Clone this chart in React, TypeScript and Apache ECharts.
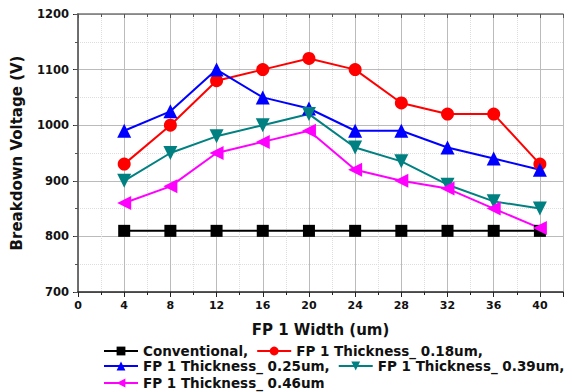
import React, { useEffect, useRef } from "react";
import * as echarts from "echarts";

const widths = [4, 8, 12, 16, 20, 24, 28, 32, 36, 40];
const conventional = [810, 810, 810, 810, 810, 810, 810, 810, 810, 810];
const t018 = [930, 1000, 1080, 1100, 1120, 1100, 1040, 1020, 1020, 930];
const t025 = [990, 1025, 1100, 1050, 1030, 990, 990, 960, 940, 920];
const t039 = [900, 950, 980, 1000, 1020, 960, 935, 893, 863, 850];
const t046 = [860, 890, 950, 970, 990, 920, 900, 886, 850, 815];

const names = [
  "Conventional,",
  "FP 1 Thickness_ 0.18um,",
  "FP 1 Thickness_ 0.25um,",
  "FP 1 Thickness_ 0.39um,",
  "FP 1 Thickness_ 0.46um",
];

const FONT = "DejaVu Sans, Verdana, sans-serif";

export default function App() {
  const ref = useRef<HTMLDivElement>(null);
  useEffect(() => {
    if (!ref.current) return;
    const chart = echarts.init(ref.current, undefined, { renderer: "svg" });
    const mk = (
      name: string,
      vals: number[],
      color: string,
      symbol: string,
      size: number,
      rot = 0
    ) => ({
      name,
      type: "line",
      data: widths.map((w, i) => [w, vals[i]]),
      symbol,
      symbolSize: size,
      symbolRotate: rot,
      lineStyle: { color, width: 2 },
      itemStyle: { color },
      z: 3,
    });
    const legendText = { fontFamily: FONT, fontWeight: "bold", fontSize: 13.5, color: "#111" };
    const legendBase = {
      orient: "horizontal",
      left: 103,
      itemWidth: 34,
      itemHeight: 11,
      itemGap: 8,
      textStyle: legendText,
      padding: 0,
      selectedMode: false,
    };
    chart.setOption({
      animation: false,
      backgroundColor: "#fff",
      textStyle: { fontFamily: FONT },
      grid: { left: 78, right: 10, top: 14, bottom: 100, containLabel: false },
      legend: [
        { ...legendBase, top: 344, data: [names[0], names[1]] },
        { ...legendBase, top: 359, data: [names[2], names[3]] },
        { ...legendBase, top: 376, data: [names[4]] },
      ],
      xAxis: [
        {
          type: "value",
          min: 0,
          max: 42,
          interval: 4,
          name: "FP 1 Width (um)",
          nameLocation: "middle",
          nameGap: 30,
          nameTextStyle: { fontFamily: FONT, fontWeight: "bold", fontSize: 15, color: "#111" },
          axisLine: { lineStyle: { color: "#222", width: 1.5 } },
          axisTick: { show: true, inside: false, length: 5, lineStyle: { color: "#222" } },
          minorTick: { show: true, splitNumber: 2, length: 3, lineStyle: { color: "#222" } },
          splitLine: { show: true, lineStyle: { color: "#bbb", width: 1 } },
          minorSplitLine: { show: true, lineStyle: { color: "#ddd", type: "dotted" } },
          axisLabel: {
            fontFamily: FONT,
            fontWeight: "bold",
            fontSize: 11,
            color: "#111",
            margin: 8,
            showMaxLabel: false,
            formatter: (v: number) => (v > 40 ? "" : String(v)),
          },
        },
        {
          type: "value",
          position: "top",
          min: 0,
          max: 42,
          interval: 4,
          axisLine: { show: true, lineStyle: { color: "#777", width: 1.5 } },
          axisTick: { show: true, inside: true, length: 4, lineStyle: { color: "#555" } },
          minorTick: { show: true, splitNumber: 2, length: 3, lineStyle: { color: "#555" } },
          splitLine: { show: false },
          axisLabel: { show: false },
        },
      ],
      yAxis: [
        {
          type: "value",
          min: 700,
          max: 1200,
          interval: 100,
          name: "Breakdown Voltage (V)",
          nameLocation: "middle",
          nameGap: 54,
          nameTextStyle: { fontFamily: FONT, fontWeight: "bold", fontSize: 15, color: "#111" },
          axisLine: { show: true, lineStyle: { color: "#222", width: 1.5 } },
          axisTick: { show: true, inside: false, length: 5, lineStyle: { color: "#222" } },
          minorTick: { show: true, splitNumber: 2, length: 3, lineStyle: { color: "#222" } },
          splitLine: { show: true, lineStyle: { color: "#bbb", width: 1 } },
          minorSplitLine: { show: true, lineStyle: { color: "#ddd", type: "dotted" } },
          axisLabel: {
            fontFamily: FONT,
            fontWeight: "bold",
            fontSize: 11.5,
            color: "#111",
            margin: 9,
            formatter: (v: number) => String(v),
          },
        },
        {
          type: "value",
          position: "right",
          min: 700,
          max: 1200,
          interval: 100,
          axisLine: { show: true, lineStyle: { color: "#777", width: 1.5 } },
          axisTick: { show: true, inside: true, length: 4, lineStyle: { color: "#555" } },
          minorTick: { show: true, splitNumber: 2, length: 3, lineStyle: { color: "#555" } },
          splitLine: { show: false },
          axisLabel: { show: false },
        },
      ],
      series: [
        mk(names[0], conventional, "#000000", "rect", 12),
        mk(names[1], t018, "#ff0000", "circle", 13),
        mk(names[2], t025, "#0000ff", "triangle", 14),
        mk(names[3], t039, "#008080", "triangle", 14, 180),
        mk(names[4], t046, "#ff00ff", "triangle", 14, 90),
      ],
    });
    return () => chart.dispose();
  }, []);
  return <div ref={ref} style={{ width: 573, height: 392, position: "absolute", left: 0, top: 0 }} />;
}
